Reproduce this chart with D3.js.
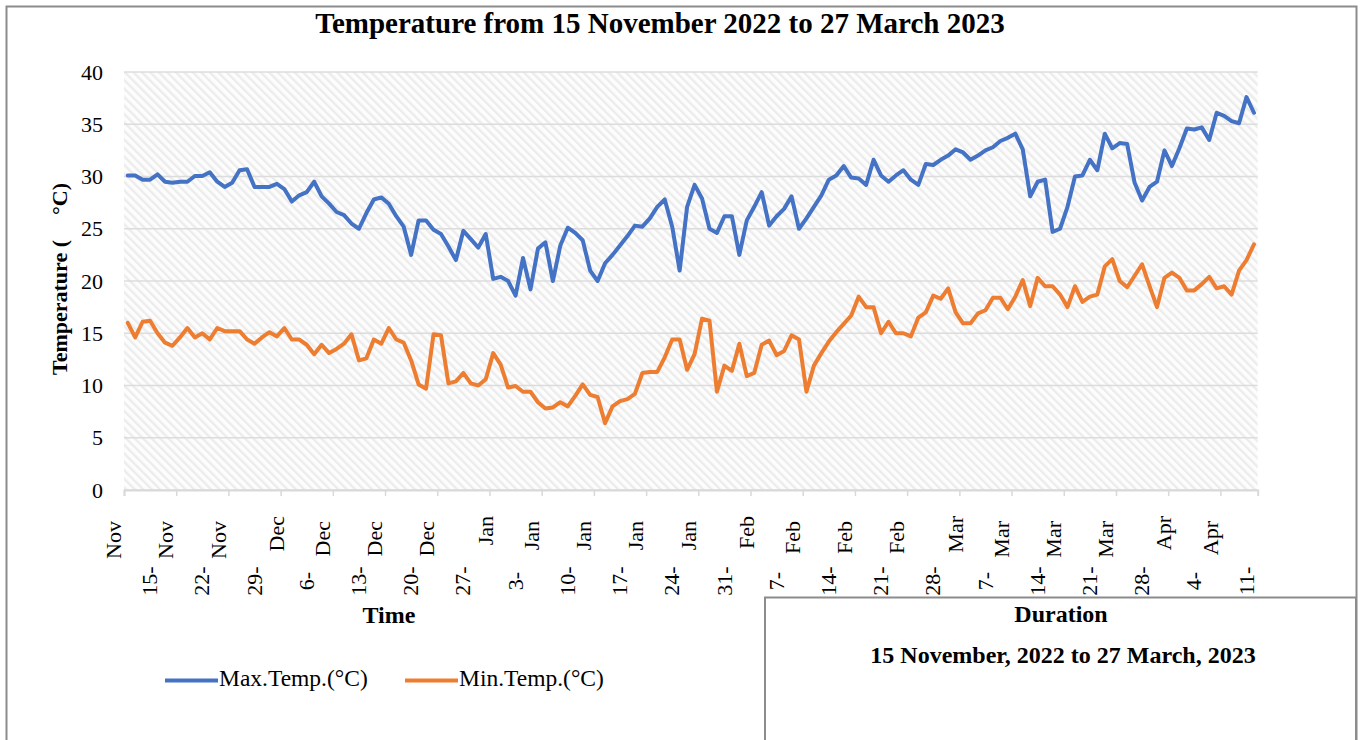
<!DOCTYPE html>
<meta charset="utf-8">
<script src="https://d3js.org/d3.v7.min.js"></script>
<style>
  body { margin: 0; background: #fff; }
  text { font-family: "Times New Roman", "Liberation Serif", serif; fill: #000; }
</style>
<svg id="chart" width="1362" height="740"></svg>
<script>
// daily readings, starting 15 Nov 2022
var startDate = "2022-11-15";

var maxTemp = [
  30.1, 30.1, 29.7, 29.7, 30.2, 29.5, 29.4, 29.5, 29.5, 30.05,
  30.05, 30.4, 29.5, 29.0, 29.4, 30.6, 30.7, 29.0, 29.0, 29.0,
  29.3, 28.8, 27.6, 28.2, 28.5, 29.5, 28.1, 27.4, 26.6, 26.3,
  25.5, 25.0, 26.5, 27.8, 28.0, 27.4, 26.2, 25.2, 22.5, 25.8,
  25.8, 24.9, 24.5, 23.3, 22.0, 24.8, 24.0, 23.2, 24.5, 20.2,
  20.4, 20.0, 18.6, 22.2, 19.2, 23.1, 23.7, 20.0, 23.4, 25.1,
  24.6, 23.9, 21.0, 20.0, 21.7, 22.5, 23.4, 24.3, 25.3, 25.2,
  26.0, 27.1, 27.8, 25.2, 21.0, 27.1, 29.2, 27.9, 25.0, 24.6,
  26.2, 26.2, 22.5, 25.8, 27.1, 28.5, 25.3, 26.2, 26.9, 28.1,
  25.0, 26.0, 27.1, 28.2, 29.7, 30.1, 31.0, 29.9, 29.8, 29.2,
  31.6, 30.1, 29.5, 30.1, 30.6, 29.7, 29.2, 31.2, 31.1, 31.6,
  32.0, 32.6, 32.3, 31.6, 32.0, 32.5, 32.8, 33.4, 33.7, 34.1,
  32.6, 28.1, 29.5, 29.7, 24.7, 25.0, 27.1, 30.0, 30.1, 31.6,
  30.6, 34.1, 32.7, 33.2, 33.1, 29.4, 27.7, 29.0, 29.5, 32.5,
  31.0, 32.7, 34.6, 34.5, 34.7, 33.5, 36.1, 35.8, 35.3, 35.1,
  37.6, 36.1
];

var minTemp = [
  16.0, 14.6, 16.1, 16.2, 15.0, 14.1, 13.8, 14.6, 15.5, 14.6,
  15.0, 14.4, 15.5, 15.2, 15.2, 15.2, 14.4, 14.0, 14.6, 15.1,
  14.7, 15.5, 14.4, 14.4, 13.9, 13.0, 13.9, 13.1, 13.5, 14.0,
  14.9, 12.4, 12.6, 14.4, 14.0, 15.5, 14.4, 14.1, 12.4, 10.1,
  9.7, 14.9, 14.8, 10.2, 10.4, 11.2, 10.2, 10.0, 10.6, 13.1,
  12.0, 9.8, 9.95, 9.4, 9.4, 8.4, 7.8, 7.9, 8.4, 8.0,
  9.0, 10.1, 9.1, 8.9, 6.4, 8.0, 8.5, 8.7, 9.2, 11.2,
  11.3, 11.3, 12.7, 14.4, 14.4, 11.5, 13.0, 16.4, 16.2, 9.4,
  11.9, 11.4, 14.0, 10.9, 11.2, 13.9, 14.3, 12.9, 13.3, 14.8,
  14.4, 9.4, 11.9, 13.1, 14.2, 15.1, 15.9, 16.7, 18.5, 17.5,
  17.5, 15.0, 16.1, 15.0, 15.0, 14.7, 16.5, 17.0, 18.6, 18.3,
  19.3, 17.0, 15.95, 15.95, 16.9, 17.2, 18.4, 18.4, 17.3, 18.5,
  20.1, 17.6, 20.3, 19.5, 19.5, 18.7, 17.5, 19.5, 18.0, 18.5,
  18.7, 21.4, 22.1, 20.0, 19.4, 20.5, 21.6, 19.5, 17.5, 20.3,
  20.8, 20.3, 19.1, 19.1, 19.7, 20.4, 19.3, 19.5, 18.7, 21.0,
  22.0, 23.5
];

var yTicks = [0, 5, 10, 15, 20, 25, 30, 35, 40];
var seriesNames = ["Max.Temp.(°C)", "Min.Temp.(°C)"];
var seriesColors = ["#4472C4", "#ED7D31"];
var titleText = "Temperature from 15 November 2022 to 27 March 2023";
var durationTitle = "Duration";
var durationText = "15 November, 2022 to 27 March, 2023";

var svg = d3.select("#chart");
var plot = { left: 124, right: 1257.7, top: 72, bottom: 490 };

var day0 = d3.utcParse("%Y-%m-%d")(startDate);
var nDays = maxTemp.length;
// points sit in the middle of each day slot
var dates = d3.range(nDays).map(function(i) { return d3.utcHour.offset(d3.utcDay.offset(day0, i), 12); });
var tickDates = d3.range(0, nDays, 7).map(function(i) { return d3.utcDay.offset(day0, i); });

var x = d3.scaleUtc()
    .domain([day0, d3.utcDay.offset(day0, nDays)])
    .range([plot.left, plot.right]);
var y = d3.scaleLinear().domain([0, 40]).range([plot.bottom, plot.top]);

// hatch fill of the plot area
var defs = svg.append("defs");
var pat = defs.append("pattern")
    .attr("id", "hatch")
    .attr("patternUnits", "userSpaceOnUse")
    .attr("width", 6).attr("height", 6)
    .attr("patternTransform", "rotate(-45)");
pat.append("rect").attr("width", 6).attr("height", 6).attr("fill", "#fdfdfd");
pat.append("rect").attr("width", 2.4).attr("height", 6).attr("fill", "#ececec");

// outer chart border
svg.append("rect")
    .attr("x", 6.5).attr("y", 6.5)
    .attr("width", 1350).attr("height", 800)
    .attr("fill", "#fff").attr("stroke", "#8c8c8c").attr("stroke-width", 2);

svg.append("rect")
    .attr("x", plot.left).attr("y", plot.top)
    .attr("width", plot.right - plot.left).attr("height", plot.bottom - plot.top)
    .attr("fill", "url(#hatch)");

// gridlines
svg.append("g").selectAll("line")
    .data(yTicks)
    .enter().append("line")
    .attr("x1", plot.left).attr("x2", plot.right)
    .attr("y1", function(d) { return y(d); })
    .attr("y2", function(d) { return y(d); })
    .attr("stroke", "#dcdcdc").attr("stroke-width", 1.5);

// y axis labels
var yAxis = svg.append("g")
    .attr("transform", "translate(" + plot.left + ",0)")
    .call(d3.axisLeft(y).tickValues(yTicks).tickSize(0).tickPadding(21));
yAxis.select(".domain").remove();
yAxis.attr("font-family", null).attr("font-size", null);
yAxis.selectAll("text").style("font-size", "22px");

// x axis with weekly ticks
var xAxis = svg.append("g")
    .attr("transform", "translate(0," + plot.bottom + ")")
    .call(d3.axisBottom(x).tickValues(tickDates).tickSize(6).tickFormat(""));
xAxis.attr("font-family", null).attr("font-size", null);
xAxis.select(".domain").attr("stroke", "#d9d9d9").attr("stroke-width", 2);
xAxis.selectAll(".tick line").attr("stroke", "#d9d9d9").attr("stroke-width", 1.5);

var fmtDay = d3.utcFormat("%-d"), fmtMon = d3.utcFormat("%b");
xAxis.selectAll(".tick").each(function(d, i) {
  var g = d3.select(this);
  var newMonth = i > 0 && d.getUTCMonth() !== tickDates[i - 1].getUTCMonth();
  g.append("text")
      .attr("transform", "translate(" + (newMonth ? -5 : -11) + "," + (newMonth ? 26 : 31) + ") rotate(-90)")
      .attr("text-anchor", "end")
      .attr("dy", "0.35em")
      .style("font-size", "22px")
      .text(fmtMon(d));
  g.append("text")
      .attr("transform", "translate(25,91) rotate(-90)")
      .attr("text-anchor", "middle")
      .attr("dy", "0.35em")
      .style("font-size", "22px")
      .text(fmtDay(d) + "-");
});

// the two series
var line = d3.line()
    .x(function(d, i) { return x(dates[i]); })
    .y(function(d) { return y(d); });

[maxTemp, minTemp].forEach(function(s, k) {
  svg.append("path")
      .datum(s)
      .attr("d", line)
      .attr("fill", "none")
      .attr("stroke", seriesColors[k])
      .attr("stroke-width", 4)
      .attr("stroke-linejoin", "round")
      .attr("stroke-linecap", "round");
});

// title and axis titles
svg.append("text")
    .attr("x", 660).attr("y", 33)
    .attr("text-anchor", "middle")
    .style("font-size", "29px").style("font-weight", "bold")
    .text(titleText);

svg.append("text")
    .attr("x", 389).attr("y", 623)
    .attr("text-anchor", "middle")
    .style("font-size", "24px").style("font-weight", "bold")
    .text("Time");

var yTitle = svg.append("text")
    .attr("transform", "translate(67,375) rotate(-90)")
    .style("font-size", "22px").style("font-weight", "bold");
yTitle.append("tspan").text("Temperature (");
yTitle.append("tspan").attr("dx", 25).text("°C)");

// legend
var legendX = [165, 405];
seriesNames.forEach(function(name, k) {
  svg.append("line")
      .attr("x1", legendX[k]).attr("x2", legendX[k] + 53)
      .attr("y1", 680.5).attr("y2", 680.5)
      .attr("stroke", seriesColors[k]).attr("stroke-width", 4);
  svg.append("text")
      .attr("x", legendX[k] + 54).attr("y", 686)
      .style("font-size", "23.5px")
      .text(name);
});

// duration box
svg.append("rect")
    .attr("x", 765).attr("y", 597.5)
    .attr("width", 591).attr("height", 200)
    .attr("fill", "#fff").attr("stroke", "#8c8c8c").attr("stroke-width", 2);
svg.append("text")
    .attr("x", 1061).attr("y", 622)
    .attr("text-anchor", "middle")
    .style("font-size", "24px").style("font-weight", "bold")
    .text(durationTitle);
svg.append("text")
    .attr("x", 1063).attr("y", 663)
    .attr("text-anchor", "middle")
    .style("font-size", "24px").style("font-weight", "bold")
    .text(durationText);
</script>
